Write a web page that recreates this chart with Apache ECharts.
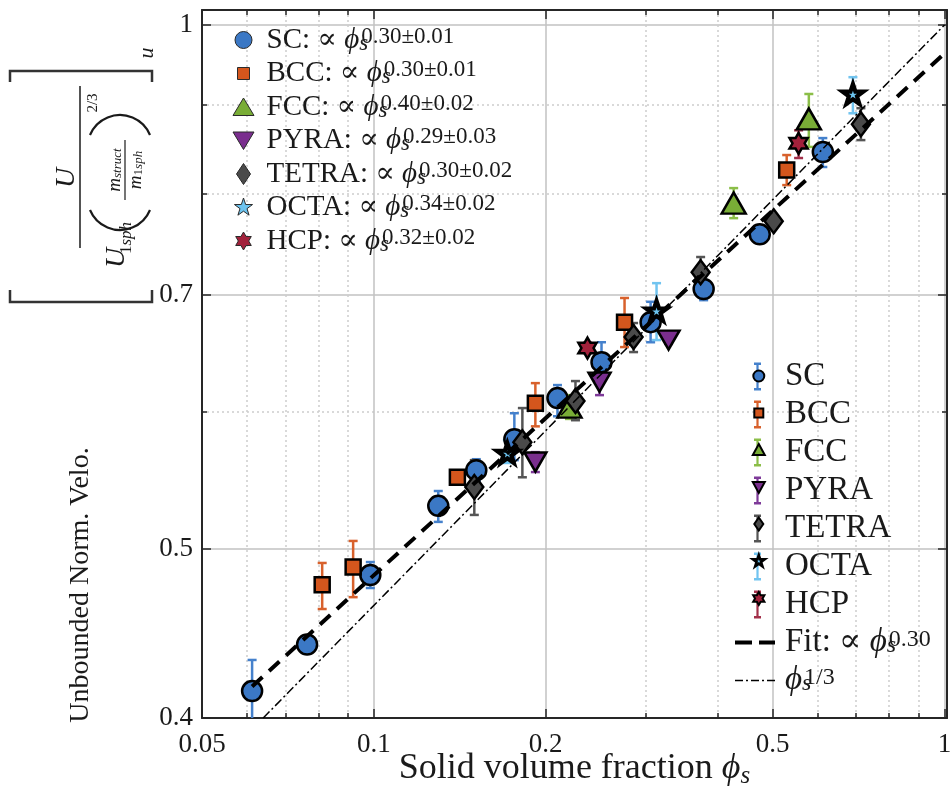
<!DOCTYPE html>
<html>
<head>
<meta charset="utf-8">
<title>Unbounded normalised velocity vs solid volume fraction</title>
<script src="https://cdn.jsdelivr.net/npm/echarts@6.0.0/dist/echarts.min.js"></script>
<style>
  html, body { margin: 0; padding: 0; background: #fff; }
  #main { width: 951px; height: 795px; }
</style>
</head>
<body>
<div id="main"></div>
<script>
//---- values ----
var structNames = ['SC', 'BCC', 'FCC', 'PYRA', 'TETRA', 'OCTA', 'HCP'];
var fitExponents = ['0.30±0.01', '0.30±0.01', '0.40±0.02', '0.29±0.03', '0.30±0.02', '0.34±0.02', '0.32±0.02'];
var fitLabel = '0.30';
var cubeLabel = '1/3';

// [phi_s, velocity, lower end of bar, upper end of bar]
var scData = [
    [0.0612, 0.4145, 0.3970, 0.4319],
    [0.0764, 0.4408, 0.4370, 0.4450],
    [0.0986, 0.4832, 0.4750, 0.4916],
    [0.1297, 0.5295, 0.5184, 0.5400],
    [0.1512, 0.5551, 0.5470, 0.5632],
    [0.1763, 0.5783, 0.5625, 0.5985],
    [0.2098, 0.6106, 0.5961, 0.6212],
    [0.2506, 0.6403, 0.6310, 0.6574],
    [0.3055, 0.6751, 0.6574, 0.6935],
    [0.3784, 0.7053, 0.6950, 0.7137],
    [0.4745, 0.7582, 0.7520, 0.7640],
    [0.6120, 0.8454, 0.8288, 0.8611]
];
var bccData = [
    [0.0812, 0.4770, 0.4620, 0.4910],
    [0.0920, 0.4884, 0.4693, 0.5055],
    [0.1401, 0.5499, 0.5450, 0.5550],
    [0.1919, 0.6065, 0.5882, 0.6228],
    [0.2750, 0.6751, 0.6532, 0.6970],
    [0.5290, 0.8256, 0.8092, 0.8420]
];
var fccData = [
    [0.2202, 0.6034, 0.5940, 0.6130],
    [0.4271, 0.7902, 0.7746, 0.8060],
    [0.5784, 0.8832, 0.8511, 0.9128]
];
var pyraData = [
    [0.1919, 0.5611, 0.5537, 0.5685],
    [0.2486, 0.6236, 0.6130, 0.6344],
    [0.3284, 0.6593, 0.6560, 0.6630]
];
var tetraData = [
    [0.1500, 0.5429, 0.5232, 0.5625],
    [0.1821, 0.5760, 0.5499, 0.6026],
    [0.2256, 0.6082, 0.5930, 0.6245],
    [0.2852, 0.6619, 0.6489, 0.6743],
    [0.3738, 0.7212, 0.7071, 0.7358],
    [0.5020, 0.7715, 0.7660, 0.7770],
    [0.7136, 0.8771, 0.8588, 0.8958]
];
var octaData = [
    [0.1714, 0.5678, 0.5604, 0.5776],
    [0.3129, 0.6853, 0.6593, 0.7108],
    [0.6910, 0.9128, 0.8898, 0.9333]
];
var hcpData = [
    [0.2368, 0.6524, 0.6480, 0.6570],
    [0.5550, 0.8552, 0.8387, 0.8700]
];

// end points of the two reference lines
var fitLine = [[0.0612, 0.417], [1.01, 0.966]];
var cubeRootLine = [[0.064, 0.4], [1, 1]];

var xTicks = [0.05, 0.1, 0.2, 0.5, 1];
var xTickLabels = ['0.05', '0.1', '0.2', '0.5', '1'];
var xMinorTicks = [0.06, 0.07, 0.08, 0.09, 0.3, 0.4, 0.6, 0.7, 0.8, 0.9];
var yTicks = [0.4, 0.5, 0.7, 1];
var yTickLabels = ['0.4', '0.5', '0.7', '1'];
var yMinorTicks = [0.6, 0.8, 0.9];

//---- styles ----
var serif = '"Liberation Serif", "Times New Roman", "DejaVu Serif", serif';
var ink = '#1a1a1a';
var fillColors = ['#3B78C5', '#D4561D', '#79AD36', '#7A2E8E', '#4A4A4A', '#6CC3EF', '#A2213B'];
var barColors = ['#4581CC', '#D8612C', '#8BBE48', '#7E3A99', '#555555', '#71C4F0', '#A3304A'];

function starPolygon(cx, cy, rOut, rIn, points) {
    var d = '';
    for (var k = 0; k < points * 2; k++) {
        var r = k % 2 ? rIn : rOut;
        var a = k * Math.PI / points;
        d += (k ? 'L' : 'M') + (cx + r * Math.sin(a)).toFixed(2) + ' ' + (cy - r * Math.cos(a)).toFixed(2);
    }
    return d + 'Z';
}
// icon drawn at its own pixel size inside a w x h legend box
function boxIcon(w, h, body) {
    return 'path://M0 0L0 0M' + w + ' ' + h + 'L' + w + ' ' + h + body;
}

var symbols = ['circle', 'rect', 'triangle', 'triangle', 'diamond',
    'path://' + starPolygon(10, 10, 10, 3.9, 5), 'path://' + starPolygon(10, 10, 10, 5.77, 6)];
var symbolSizes = [20, 15, [24, 21], [22, 19], [18, 24], 21, 21];
var symbolRotates = [0, 0, 0, 180, 0, 0, 0];
var borderWidths = [2.5, 2.5, 2.5, 2.5, 2.5, 4.2, 2.5];
var seriesData = [scData, bccData, fccData, pyraData, tetraData, octaData, hcpData];

var topIcons = [
    boxIcon(36, 22, 'M9.5 11A8.5 8.5 0 1 1 26.5 11A8.5 8.5 0 1 1 9.5 11Z'),
    boxIcon(36, 22, 'M12 5H24V17H12Z'),
    boxIcon(36, 22, 'M18 2L28.5 19.5L7.5 19.5Z'),
    boxIcon(36, 22, 'M7.5 2.5L28.5 2.5L18 20Z'),
    boxIcon(36, 22, 'M18 0.5L25 11L18 21.5L11 11Z'),
    boxIcon(36, 22, starPolygon(18, 11, 9.5, 3.7, 5)),
    boxIcon(36, 22, starPolygon(18, 11, 9, 5.2, 6))
];
var smallIcons = [
    boxIcon(45, 30, 'M17 15A5.5 5.5 0 1 1 28 15A5.5 5.5 0 1 1 17 15Z'),
    boxIcon(45, 30, 'M18 10.5H27V19.5H18Z'),
    boxIcon(45, 30, 'M22.5 9L28.5 20L16.5 20Z'),
    boxIcon(45, 30, 'M16.5 10L28.5 10L22.5 21Z'),
    boxIcon(45, 30, 'M22.5 8.5L27 15L22.5 21.5L18 15Z'),
    boxIcon(45, 30, starPolygon(22.5, 15, 6.2, 2.4, 5)),
    boxIcon(45, 30, starPolygon(22.5, 15, 6.5, 3.75, 6))
];
var smallBorders = [2, 2, 2, 2, 2, 2.6, 2];
var barIcon = boxIcon(45, 30, 'M19 1H26V3.5H23.6V26.5H26V29H19V26.5H21.4V3.5H19Z');
var fitIcon = boxIcon(45, 30, 'M0 13H17V17H0ZM24 13H40V17H24Z');
var cubeIcon = boxIcon(45, 30, 'M0 14.2H8V15.8H0ZM11 14.2H13V15.8H11ZM16 14.2H24V15.8H16ZM27 14.2H29V15.8H27ZM32 14.2H40V15.8H32Z');

function richSet(size, supSize) {
    return {
        t: { fontFamily: serif, fontSize: size, lineHeight: 30, color: ink },
        phi: { fontFamily: serif, fontSize: size, fontStyle: 'italic', lineHeight: 30, color: ink },
        s: { fontFamily: serif, fontSize: supSize, fontStyle: 'italic', lineHeight: 10, verticalAlign: 'bottom', width: 2, color: ink },
        e: { fontFamily: serif, fontSize: supSize, lineHeight: 12, verticalAlign: 'top', color: ink },
        blank: { fontSize: 10, lineHeight: 30, width: 1 }
    };
}

function errorBars(name, data, color) {
    return {
        type: 'custom',
        name: name + ' bars',
        data: data,
        clip: true,
        encode: { x: 0, y: 1 },
        renderItem: function(params, api) {
            var x = api.value(0);
            var top = api.coord([x, api.value(3)]);
            var bot = api.coord([x, api.value(2)]);
            var cap = 4.5;
            var st = { stroke: color, lineWidth: 2.5 };
            return {
                type: 'group',
                children: [
                    { type: 'line', shape: { x1: top[0], y1: top[1], x2: bot[0], y2: bot[1] }, style: st },
                    { type: 'line', shape: { x1: top[0] - cap, y1: top[1], x2: top[0] + cap, y2: top[1] }, style: st },
                    { type: 'line', shape: { x1: bot[0] - cap, y1: bot[1], x2: bot[0] + cap, y2: bot[1] }, style: st }
                ]
            };
        }
    };
}

var series = [];
structNames.forEach(function(name, i) {
    series.push(errorBars(name, seriesData[i], barColors[i]));
    series.push({
        type: 'scatter',
        name: name,
        data: seriesData[i],
        encode: { x: 0, y: 1 },
        symbol: symbols[i],
        symbolSize: symbolSizes[i],
        symbolRotate: symbolRotates[i],
        symbolKeepAspect: true,
        itemStyle: { color: fillColors[i], borderColor: '#000', borderWidth: borderWidths[i], opacity: 1 }
    });
});
series.push({
    type: 'line',
    name: 'Fit',
    data: fitLine,
    symbol: 'none',
    lineStyle: { color: '#000', width: 4, type: [14, 9] }
});
series.push({
    type: 'line',
    name: 'Cube',
    data: cubeRootLine,
    symbol: 'none',
    lineStyle: { color: '#000', width: 1.5, type: [9, 3, 2, 3] }
});

function labelFrom(ticks, labels) {
    return function(v) {
        for (var i = 0; i < ticks.length; i++) {
            if (Math.abs(ticks[i] - v) < 1e-9) return labels[i];
        }
        return '';
    };
}

var axisLine = { show: true, onZero: false, lineStyle: { color: '#262626', width: 2 } };
var noLine = { show: false };
var majorGrid = { show: true, lineStyle: { color: '#c2c2c2', width: 1.5, type: 'solid' } };
var minorGrid = { show: true, lineStyle: { color: '#cdcdcd', width: 1.5, type: [2, 3] } };
var tickStyle = { color: '#262626', width: 1.5 };

function logAxis(extra) {
    var base = {
        type: 'log', logBase: 10,
        axisLabel: { show: false },
        splitLine: { show: false },
        minorTick: { show: false },
        minorSplitLine: { show: false }
    };
    return Object.assign(base, extra);
}

var xRange = { min: 0.05, max: 1.01 };
var yRange = { min: 0.4, max: 1.02 };

var xAxes = [
    logAxis(Object.assign({
        position: 'bottom',
        axisLine: axisLine,
        axisTick: { show: true, inside: true, length: 9, customValues: xTicks, lineStyle: tickStyle },
        axisLabel: {
            show: true, customValues: xTicks, formatter: labelFrom(xTicks, xTickLabels),
            margin: 13, fontSize: 27, fontFamily: serif, color: ink
        },
        splitLine: majorGrid,
        name: '{a|Solid volume fraction }{phi|ϕ}{s|s}',
        nameLocation: 'middle',
        nameGap: 31,
        nameMoveOverlap: false,
        nameTextStyle: {
            rich: {
                a: { fontSize: 36, fontFamily: serif, color: ink, lineHeight: 40 },
                phi: { fontSize: 36, fontFamily: serif, fontStyle: 'italic', color: ink, lineHeight: 40 },
                s: { fontSize: 25, fontFamily: serif, fontStyle: 'italic', color: ink, lineHeight: 12, verticalAlign: 'bottom' }
            }
        }
    }, xRange)),
    logAxis(Object.assign({
        position: 'top',
        axisLine: axisLine,
        axisTick: { show: true, inside: true, length: 5, customValues: xMinorTicks, lineStyle: tickStyle },
        splitLine: minorGrid
    }, xRange)),
    logAxis(Object.assign({
        position: 'bottom',
        axisLine: noLine,
        axisTick: { show: true, inside: true, length: 5, customValues: xMinorTicks, lineStyle: tickStyle }
    }, xRange)),
    logAxis(Object.assign({
        position: 'top',
        axisLine: noLine,
        axisTick: { show: true, inside: true, length: 9, customValues: xTicks, lineStyle: tickStyle }
    }, xRange))
];

var yAxes = [
    logAxis(Object.assign({
        position: 'left',
        axisLine: axisLine,
        axisTick: { show: true, inside: true, length: 9, customValues: yTicks, lineStyle: tickStyle },
        axisLabel: {
            show: true, customValues: yTicks, formatter: labelFrom(yTicks, yTickLabels),
            margin: 9, fontSize: 27, fontFamily: serif, color: ink
        },
        splitLine: majorGrid
    }, yRange)),
    logAxis(Object.assign({
        position: 'right',
        axisLine: axisLine,
        axisTick: { show: true, inside: true, length: 5, customValues: yMinorTicks, lineStyle: tickStyle },
        splitLine: minorGrid
    }, yRange)),
    logAxis(Object.assign({
        position: 'left',
        axisLine: noLine,
        axisTick: { show: true, inside: true, length: 5, customValues: yMinorTicks, lineStyle: tickStyle }
    }, yRange)),
    logAxis(Object.assign({
        position: 'right',
        axisLine: noLine,
        axisTick: { show: true, inside: true, length: 9, customValues: yTicks, lineStyle: tickStyle }
    }, yRange))
];

// y title: bracketed velocity ratio, drawn rotated
var arcA = 1.176;
var yTitle = [{
    type: 'group',
    x: 80,
    y: 186,
    rotation: Math.PI / 2,
    silent: true,
    children: [
        { type: 'polyline', shape: { points: [[-104, -70], [-116, -70], [-116, 72], [-104, 72]] }, style: { stroke: '#333', lineWidth: 2.5, fill: null } },
        { type: 'polyline', shape: { points: [[104, -70], [115, -70], [115, 72], [104, 72]] }, style: { stroke: '#333', lineWidth: 2.5, fill: null } },
        { type: 'text', x: 133, y: 67, style: { text: 'u', fontSize: 22, fontStyle: 'italic', fontFamily: serif, fill: ink, align: 'center', verticalAlign: 'middle' } },
        { type: 'line', shape: { x1: -62, y1: 0, x2: 100, y2: 0 }, style: { stroke: ink, lineWidth: 1.5 } },
        { type: 'text', x: 8, y: -13, style: { text: 'U', fontSize: 28, fontStyle: 'italic', fontFamily: serif, fill: ink, align: 'center', verticalAlign: 'middle' } },
        { type: 'text', x: -72, y: 37, style: { text: 'U', fontSize: 28, fontStyle: 'italic', fontFamily: serif, fill: ink, align: 'center', verticalAlign: 'middle' } },
        {
            type: 'text', x: -52, y: 47,
            style: {
                text: '{n|1}{i|sph}', fill: ink, align: 'center', verticalAlign: 'middle',
                rich: { n: { fontSize: 17, fontFamily: serif }, i: { fontSize: 17, fontFamily: serif, fontStyle: 'italic' } }
            }
        },
        { type: 'arc', shape: { cx: -11.5, cy: 40, r: 32.5, startAngle: Math.PI - arcA, endAngle: Math.PI + arcA }, style: { stroke: ink, lineWidth: 2.2, fill: null } },
        { type: 'arc', shape: { cx: 38.5, cy: 40, r: 32.5, startAngle: -arcA, endAngle: arcA }, style: { stroke: ink, lineWidth: 2.2, fill: null } },
        { type: 'line', shape: { x1: -14, y1: 45, x2: 46, y2: 45 }, style: { stroke: ink, lineWidth: 1.2 } },
        {
            type: 'text', x: 16, y: 35,
            style: {
                text: '{m|m}{s|struct}', fill: ink, align: 'center', verticalAlign: 'middle',
                rich: {
                    m: { fontSize: 19, fontFamily: serif, fontStyle: 'italic', lineHeight: 18 },
                    s: { fontSize: 13, fontFamily: serif, fontStyle: 'italic', lineHeight: 10, verticalAlign: 'bottom' }
                }
            }
        },
        {
            type: 'text', x: 16, y: 56,
            style: {
                text: '{m|m}{n|1}{s|sph}', fill: ink, align: 'center', verticalAlign: 'middle',
                rich: {
                    m: { fontSize: 19, fontFamily: serif, fontStyle: 'italic', lineHeight: 18 },
                    n: { fontSize: 13, fontFamily: serif, lineHeight: 10, verticalAlign: 'bottom' },
                    s: { fontSize: 13, fontFamily: serif, fontStyle: 'italic', lineHeight: 10, verticalAlign: 'bottom' }
                }
            }
        },
        { type: 'text', x: 83, y: 13, style: { text: '2/3', fontSize: 15, fontFamily: serif, fill: ink, align: 'center', verticalAlign: 'middle' } }
    ]
}, {
    type: 'text',
    x: 81,
    y: 585,
    rotation: Math.PI / 2,
    silent: true,
    style: { text: 'Unbounded Norm. Velo.', fontSize: 28, fontFamily: serif, fill: ink, align: 'center', verticalAlign: 'middle' }
}];

var domChart = document.getElementById('main');
var myChart = echarts.init(domChart, null, { renderer: 'canvas' });

var option = {
    animation: false,
    backgroundColor: '#ffffff',
    grid: { left: 202, right: 4, top: 10, bottom: 77, containLabel: false, outerBoundsMode: 'none' },
    xAxis: xAxes,
    yAxis: yAxes,
    legend: [{
        // fitted exponents, top left
        data: structNames.map(function(n, i) {
            return { name: n, icon: topIcons[i], itemStyle: { color: fillColors[i], borderColor: '#2a2a2a', borderWidth: 1 } };
        }),
        orient: 'vertical',
        left: 225,
        top: 25,
        padding: 0,
        itemWidth: 36,
        itemHeight: 22,
        itemGap: 3.5,
        selectedMode: false,
        formatter: function(name) {
            var i = structNames.indexOf(name);
            return '{t|' + name + ': ∝ }{phi|ϕ}{s|s}{e|' + fitExponents[i] + '}';
        },
        textStyle: { rich: richSet(29, 23) }
    }, {
        // error bar legend, bottom right
        data: structNames.map(function(n, i) {
            return { name: n, icon: barIcon, itemStyle: { color: barColors[i], borderWidth: 0 } };
        }).concat([
            { name: 'Fit', icon: fitIcon, itemStyle: { color: '#000', borderWidth: 0 } },
            { name: 'Cube', icon: cubeIcon, itemStyle: { color: '#000', borderWidth: 0 } }
        ]),
        orient: 'vertical',
        left: 735,
        top: 360,
        padding: 0,
        itemWidth: 45,
        itemHeight: 30,
        itemGap: 5,
        selectedMode: false,
        formatter: function(name) {
            if (name === 'Fit') return '{t|Fit: ∝ }{phi|ϕ}{s|s}{e|' + fitLabel + '}';
            if (name === 'Cube') return '{phi|ϕ}{s|s}{e|' + cubeLabel + '}';
            return '{t|' + name + '}';
        },
        textStyle: { rich: richSet(33, 24) }
    }, {
        // markers laid over the error bar icons
        data: structNames.map(function(n, i) {
            return { name: n, icon: smallIcons[i], itemStyle: { color: fillColors[i], borderColor: '#000', borderWidth: smallBorders[i] } };
        }),
        orient: 'vertical',
        left: 735,
        top: 360,
        padding: 0,
        itemWidth: 45,
        itemHeight: 30,
        itemGap: 5,
        selectedMode: false,
        formatter: function() { return '{blank| }'; },
        textStyle: { rich: richSet(29, 23) }
    }],
    graphic: yTitle,
    series: series
};

if (option && typeof option === 'object') {
    myChart.setOption(option);
}

window.addEventListener('resize', function() {
    myChart.resize();
});
</script>
</body>
</html>
